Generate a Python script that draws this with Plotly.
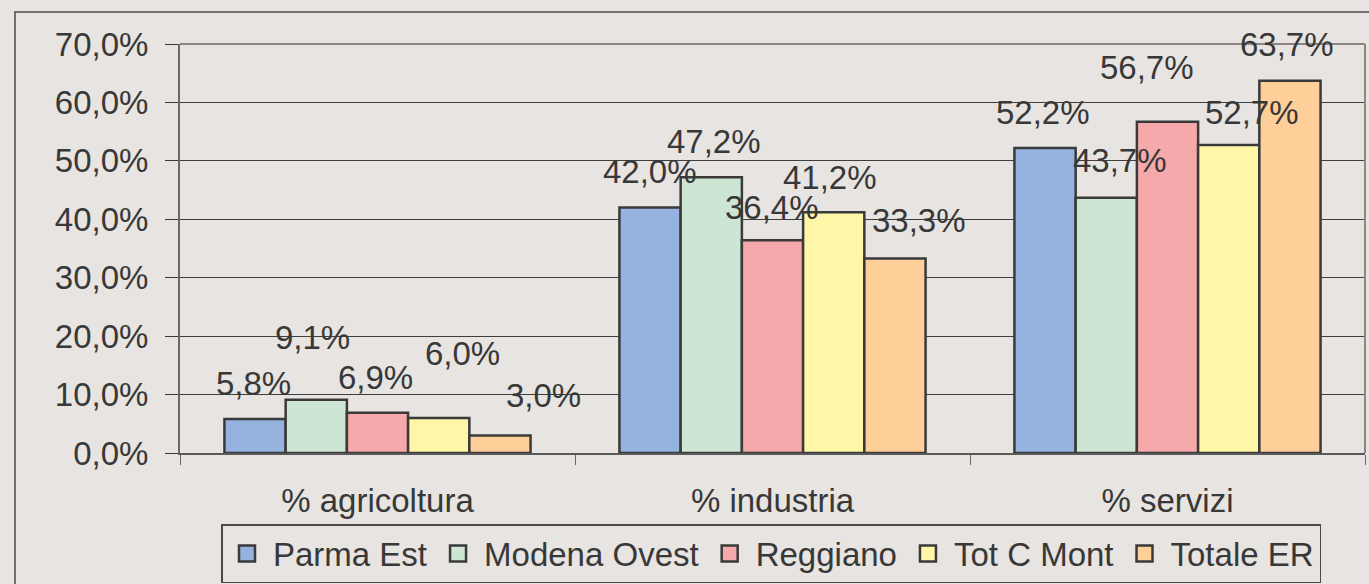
import plotly.graph_objects as go

categories = ["% agricoltura", "% industria", "% servizi"]
series_names = ["Parma Est", "Modena Ovest", "Reggiano", "Tot C Mont", "Totale ER"]
parma_est = [0.058, 0.420, 0.522]
modena_ovest = [0.091, 0.472, 0.437]
reggiano = [0.069, 0.364, 0.567]
tot_c_mont = [0.060, 0.412, 0.527]
totale_er = [0.030, 0.333, 0.637]
values = [parma_est, modena_ovest, reggiano, tot_c_mont, totale_er]
y_ticks = [0, 0.1, 0.2, 0.3, 0.4, 0.5, 0.6, 0.7]

# styling
colors = ["#95B3DE", "#CDE6D4", "#F6A9AB", "#FFF6A8", "#FFCF99"]
bg = "#E7E4E1"
txt = "#383838"
edge = "#3A3A3A"
FONT = "Liberation Sans, Arial, sans-serif"
FS = 33

# label offsets (pixels): extra x shift and height above bar top
label_dx = [[-2, 0, -2], [-4, 3, 14], [-2, -1, -21], [24, -4, 23], [44, 24, -3]]
label_dy = [[36, 36, 36], [62, 36, 37], [35, 33, 54], [64, 35, 33], [40, 38, 36]]

W, H = 1369, 584
ml, mr, mt, mb = 180, 4, 44, 131
plot_w = W - ml - mr
plot_h = H - mt - mb
bargap = 0.225
n = len(series_names)
cat_w = plot_w / len(categories)
bar_w = cat_w * (1 - bargap) / n

fig = go.Figure()
for i, name in enumerate(series_names):
    fig.add_trace(go.Bar(
        x=categories, y=values[i], name=name, legendgroup=name, showlegend=False,
        marker=dict(color=colors[i], line=dict(color=edge, width=2.5)),
    ))
for i, name in enumerate(series_names):
    # legend entry with a larger square swatch
    fig.add_trace(go.Scatter(
        x=[None], y=[None], mode="markers", name=name, legendgroup=name,
        marker=dict(symbol="square", size=18, color=colors[i], line=dict(color=edge, width=2.5)),
        hoverinfo="skip",
    ))

ann = []
for i in range(n):
    for j, c in enumerate(categories):
        v = values[i][j]
        ann.append(dict(
            x=c, y=v, xref="x", yref="y",
            text=f"{v*100:.1f}%".replace(".", ","),
            showarrow=False,
            xshift=(i - (n - 1) / 2) * bar_w + label_dx[i][j],
            yshift=label_dy[i][j],
            font=dict(family=FONT, size=FS, color=txt),
            xanchor="center", yanchor="middle",
        ))

shapes = [
    # outer chart border
    dict(type="rect", xref="paper", yref="paper",
         x0=(15 - ml) / plot_w, x1=1.05, y0=-0.5, y1=(H - mb - 12) / plot_h,
         line=dict(color="#4A4A4A", width=1.5), fillcolor="rgba(0,0,0,0)", layer="below"),
    # plot area border top/right
    dict(type="line", xref="paper", yref="paper", x0=0, x1=1, y0=1, y1=1,
         line=dict(color="#8E8480", width=2)),
    dict(type="line", xref="paper", yref="paper", x0=1, x1=1, y0=0, y1=1,
         line=dict(color="#8E8480", width=2)),
]

fig.update_layout(
    width=W, height=H,
    margin=dict(l=ml, r=mr, t=mt, b=mb, pad=0),
    paper_bgcolor=bg, plot_bgcolor=bg,
    separators=",.",
    barmode="group", bargap=bargap, bargroupgap=0,
    font=dict(family=FONT, size=FS, color=txt),
    annotations=ann, shapes=shapes,
    showlegend=True,
    legend=dict(
        orientation="h", x=(771 - ml) / plot_w, xanchor="center",
        yref="container", y=1 - 524 / H, yanchor="top",
        bgcolor=bg, bordercolor="#4A4A4A", borderwidth=1.5,
        font=dict(family=FONT, size=33, color=txt),
        itemwidth=42, tracegroupgap=0, itemsizing="trace",
    ),
    xaxis=dict(
        showline=True, linecolor="#5A5A5A", linewidth=1.5,
        ticks="outside", tickson="boundaries", ticklen=10, tickcolor="#6E6663",
        ticklabelstandoff=18,
        showgrid=False,
    ),
    yaxis=dict(
        range=[0, 0.7], tickvals=y_ticks, tickformat=".1%",
        showline=True, linecolor="#6E6663", linewidth=2,
        ticks="outside", ticklen=13, tickcolor="#3A3A3A",
        ticklabelstandoff=10,
        showgrid=True, gridcolor="#3E3E3E", gridwidth=1,
        zeroline=False,
    ),
)

fig.write_html(
    "out.html",
    config={"displayModeBar": False},
    post_script="document.body.style.margin='0';document.body.style.background='#E7E4E1';",
)
